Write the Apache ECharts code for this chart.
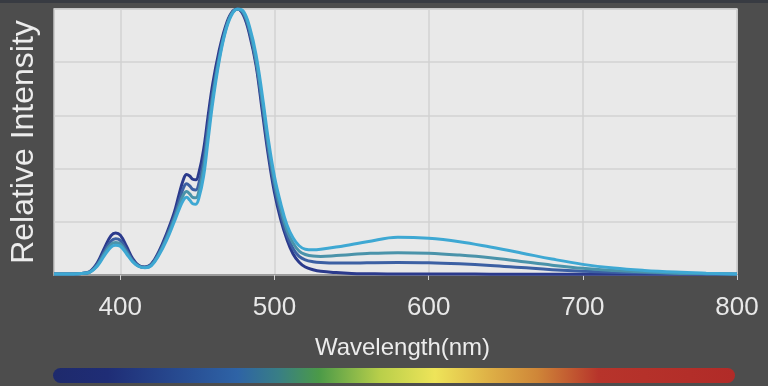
<!DOCTYPE html>
<html><head><meta charset="utf-8">
<script src="https://cdn.jsdelivr.net/npm/echarts@6/dist/echarts.min.js"></script>
<style>html,body{margin:0;padding:0;background:#4d4d4d}#c{width:768px;height:386px}</style>
</head><body><div id="c"></div>
<script>
const wavelengths = [357,365,375,380,385,390,394,397,400,404,408,412,416,420,425,430,435,438,441,443,445,447,449,451,454,457,460,464,468,472,476,480,484,488,492,496,500,504,508,512,516,520,525,530,540,550,560,580,600,620,640,660,680,700,720,740,760,780,800];
const navy = [.004,.004,.006,.012,.045,.105,.148,.158,.15,.108,.062,.036,.03,.04,.088,.155,.235,.30,.36,.378,.372,.36,.358,.385,.47,.60,.72,.84,.93,.985,1.0,.975,.9,.79,.62,.45,.31,.21,.135,.08,.048,.03,.02,.014,.009,.006,.005,.004,.004,.004,.003,.003,.003,.003,.003,.003,.003,.003,.003];
const blue = [.004,.004,.006,.011,.04,.092,.128,.136,.13,.095,.056,.034,.029,.038,.082,.145,.22,.275,.328,.343,.335,.322,.32,.345,.43,.565,.69,.82,.92,.98,1.0,.98,.91,.8,.64,.47,.33,.23,.15,.1,.07,.057,.05,.047,.045,.045,.046,.047,.046,.042,.036,.028,.02,.014,.01,.008,.006,.004,.003];
const teal = [.004,.004,.006,.01,.036,.083,.115,.122,.117,.086,.052,.033,.028,.036,.078,.138,.21,.258,.302,.314,.305,.292,.29,.315,.40,.535,.67,.81,.915,.98,1.0,.985,.92,.81,.66,.49,.35,.25,.17,.12,.09,.077,.071,.07,.073,.077,.081,.084,.082,.075,.065,.051,.037,.025,.017,.011,.007,.005,.004];
const cyan = [.004,.004,.006,.01,.033,.076,.105,.112,.108,.08,.05,.032,.027,.034,.074,.13,.2,.245,.282,.292,.282,.268,.266,.29,.37,.51,.65,.8,.91,.975,1.0,.99,.93,.83,.68,.51,.37,.27,.19,.14,.11,.097,.095,.097,.105,.115,.125,.142,.138,.125,.105,.083,.06,.04,.026,.017,.011,.007,.004];
const xTicks = [400,500,600,700,800];
const seriesNames = ['S1','S2','S3','S4'];
const seriesData = [navy, blue, teal, cyan];
const seriesColors = ['#2b3a8c','#3c60a3','#4a93aa','#3ea8d3'];

const chart = echarts.init(document.getElementById('c'), null, {renderer:'canvas'});
chart.setOption({
  backgroundColor:'#4d4d4d',
  animation:false,
  grid:{left:53,right:31,top:9,bottom:111,show:true,backgroundColor:'#e9e9e9',borderColor:'#c4c4c4',borderWidth:1.5},
  xAxis:{
    type:'value', min:357, max:800,
    name:'Wavelength(nm)', nameLocation:'middle', nameGap:61,
    nameTextStyle:{color:'#ececec',fontSize:24,fontFamily:'Liberation Sans, Arial, sans-serif',padding:[0,0,0,14]},
    axisLine:{show:true,lineStyle:{color:'#9a9a9a',width:2}},
    axisTick:{show:true,length:5,customValues:xTicks,lineStyle:{color:'#cfcfcf',width:1}},
    axisLabel:{customValues:xTicks,color:'#e8e8e8',fontSize:26,margin:20,fontFamily:'Liberation Sans, Arial, sans-serif'},
    splitLine:{show:true,lineStyle:{color:'#d2d2d2',width:1.5}}
  },
  yAxis:{
    type:'value', min:0, max:1, interval:0.2,
    name:'Relative Intensity', nameLocation:'middle', nameGap:14,
    nameTextStyle:{color:'#ececec',fontSize:32,fontFamily:'Liberation Sans, Arial, sans-serif'},
    axisLine:{show:false}, axisTick:{show:false}, axisLabel:{show:false},
    splitLine:{show:true,lineStyle:{color:'#d2d2d2',width:1.5}}
  },
  series: seriesData.map((d,i)=>({
    name:seriesNames[i], type:'line', smooth:0.4, symbol:'none',
    data: wavelengths.map((w,j)=>[w,d[j]]),
    lineStyle:{color:seriesColors[i],width:3},
    emphasis:{disabled:true}, z:2+i
  })),
  graphic:[
    {type:'rect',left:0,top:0,shape:{width:768,height:3},style:{fill:'#383b42'},silent:true},
    {type:'rect',left:53,top:368,shape:{width:682,height:15,r:7.5},silent:true,
     style:{fill:new echarts.graphic.LinearGradient(0,0,1,0,[
       {offset:0,color:'#1e2a6c'},
       {offset:0.08,color:'#1f2d76'},
       {offset:0.27,color:'#2e63a6'},
       {offset:0.33,color:'#387e86'},
       {offset:0.39,color:'#4b9a48'},
       {offset:0.48,color:'#b9cf4a'},
       {offset:0.56,color:'#eee459'},
       {offset:0.64,color:'#deb046'},
       {offset:0.71,color:'#cf8638'},
       {offset:0.80,color:'#b7342b'},
       {offset:1,color:'#b12b28'}
     ])}}
  ]
});
</script></body></html>
